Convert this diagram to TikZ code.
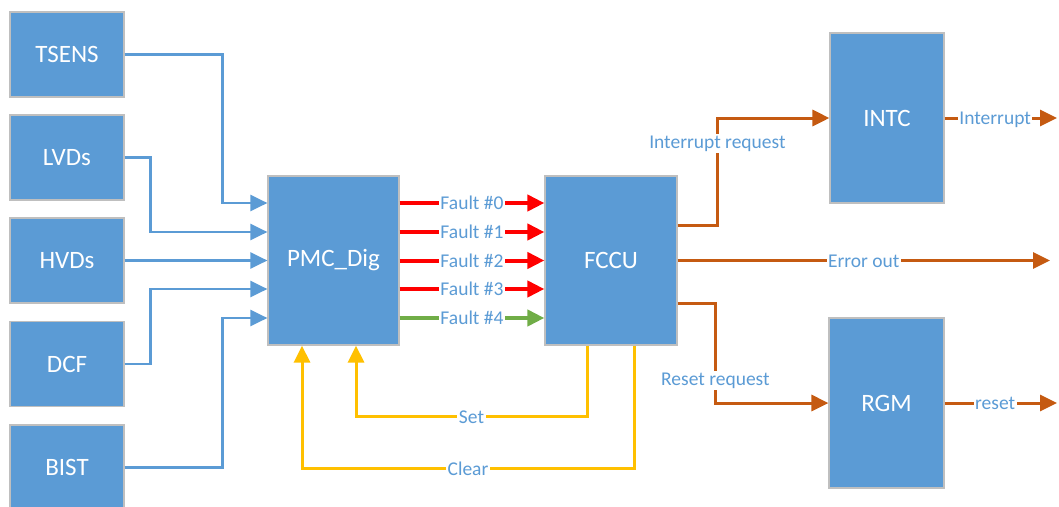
\documentclass[tikz,border=0pt]{standalone}
\usepackage{fontspec}
\setmainfont{Carlito}
\usetikzlibrary{arrows.meta,calc}
\definecolor{boxblue}{HTML}{5B9BD5}
\definecolor{boxgrey}{HTML}{BFBFBF}
\definecolor{lbltxt}{HTML}{5B9BD5}
\definecolor{fred}{HTML}{FF0000}
\definecolor{fgreen}{HTML}{70AD47}
\definecolor{fgold}{HTML}{FFC000}
\definecolor{forange}{HTML}{C55A11}
\begin{document}
\begin{tikzpicture}[x=1pt,y=1pt,
  blk/.style={draw=boxgrey, line width=1.2pt, fill=boxblue, text=white,
    font=\fontsize{25}{30}\selectfont, minimum width=114pt, minimum height=85pt, inner sep=0pt},
  lbl/.style={fill=white, text=lbltxt, font=\fontsize{19.5}{23}\selectfont, inner sep=1.5pt,
    text height=13pt, text depth=3pt, yshift=-1.5pt},
  tip/.style={-{Triangle[length=17pt,width=16pt]}},
  bl/.style={draw=boxblue, line width=2.5pt, tip},
  rd/.style={draw=fred, line width=4pt, tip},
  gr/.style={draw=fgreen, line width=4pt, tip},
  gd/.style={draw=fgold, line width=3pt, tip},
  og/.style={draw=forange, line width=3pt, tip}]
\useasboundingbox (0,0) rectangle (1059,-506);

\node[blk] (tsens) at (67,-54.5) {TSENS};
\node[blk] (lvds) at (67,-157.5) {LVDs};
\node[blk] (hvds) at (67,-260.5) {HVDs};
\node[blk] (dcf) at (67,-364) {DCF};
\node[blk] (bist) at (67,-467.5) {BIST};
\node[blk, minimum width=131pt, minimum height=169pt] (pmc) at (333.5,-260.5) {PMC\_Dig};
\node[blk, minimum width=132pt, minimum height=169pt] (fccu) at (611,-260.5) {FCCU};
\node[blk, minimum width=114pt, minimum height=170pt] (intc) at (887,-118) {INTC};
\node[blk, minimum width=115pt, minimum height=170pt] (rgm) at (886.5,-403) {RGM};

\coordinate (pin0) at ($(pmc.west)+(0,57.5)$);
\coordinate (pin1) at ($(pmc.west)+(0,28.5)$);
\coordinate (pin2) at (pmc.west);
\coordinate (pin3) at ($(pmc.west)+(0,-28.5)$);
\coordinate (pin4) at ($(pmc.west)+(0,-57.5)$);

\draw[bl] (tsens.east) -| ($(pin0)+(-45,0)$) -- (pin0);
\draw[bl] (lvds.east) -| ($(pin1)+(-117,0)$) -- (pin1);
\draw[bl] (hvds.east) -- (pin2);
\draw[bl] (dcf.east) -| ($(pin3)+(-117,0)$) -- (pin3);
\draw[bl] (bist.east) -| ($(pin4)+(-45,0)$) -- (pin4);

\foreach \i/\c in {0/rd,1/rd,2/rd,3/rd,4/gr}
  \draw[\c] (pmc.east |- pin\i) -- node[lbl]{Fault \#\i} (fccu.west |- pin\i);

\draw[gd] ($(fccu.south)+(-24,0)$) -- ++(0,-71) -| node[lbl,pos=0.25]{Set} ($(pmc.south)+(22.5,0)$);
\draw[gd] ($(fccu.south)+(23,0)$) -- ++(0,-123) -| node[lbl,pos=0.25]{Clear} ($(pmc.south)+(-31.5,0)$);

\coordinate (errend) at (1050,-260.5);
\coordinate (intend) at (1057,-118);
\coordinate (rstend) at (1057,-403);

\draw[og] ($(fccu.east)+(0,35.5)$) -| node[lbl,pos=0.89]{Interrupt request} ($(intc.west)+(-112,0)$) -- (intc.west);
\draw[og] ($(fccu.east)+(0,-42.5)$) -| node[lbl,pos=0.88]{Reset request} ($(rgm.west)+(-113,0)$) -- (rgm.west);
\draw[og] (fccu.east) -- node[lbl]{Error out} (errend);
\draw[og] (intc.east) -- node[lbl,pos=0.45]{Interrupt} (intend);
\draw[og] (rgm.east) -- node[lbl,pos=0.45]{reset} (rstend);
\end{tikzpicture}
\end{document}
